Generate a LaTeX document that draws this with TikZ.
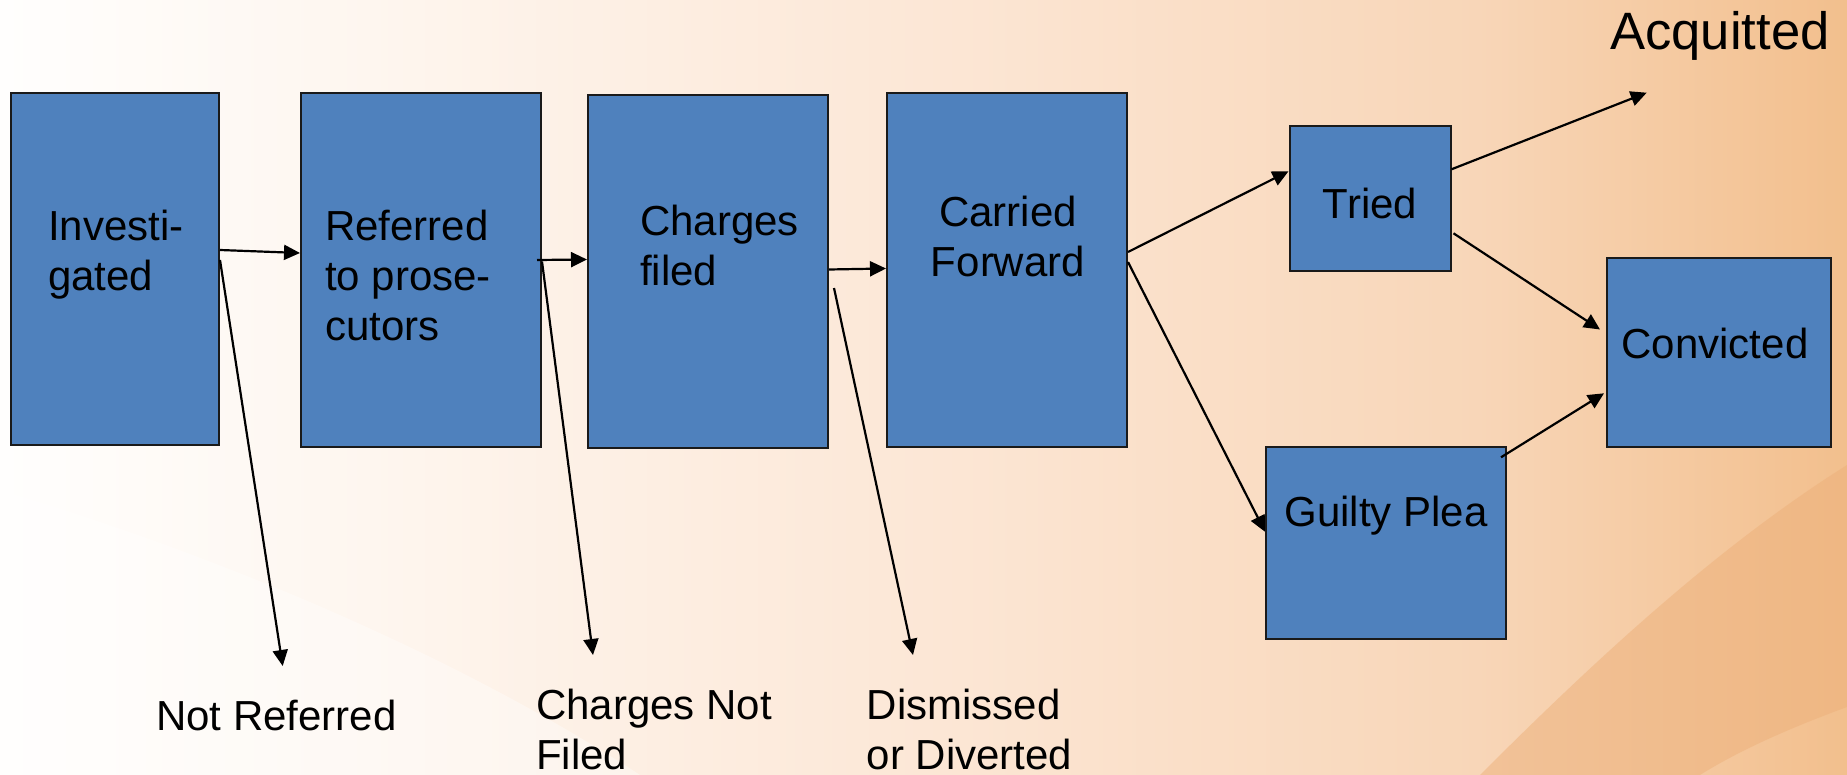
\documentclass[tikz,border=0pt]{standalone}
\usepackage{fontspec}
\setmainfont{Liberation Sans}
\usetikzlibrary{arrows.meta}

\definecolor{boxblue}{HTML}{4F81BD}
\definecolor{boxline}{HTML}{1A1A1A}
\definecolor{bgA}{HTML}{FFFEFD}
\definecolor{bgB}{HTML}{FEF6EF}
\definecolor{bgC}{HTML}{FCE7D6}
\definecolor{bgD}{HTML}{F8D6B8}
\definecolor{bgE}{HTML}{F2BF8D}
\definecolor{swoosh}{HTML}{EDB07A}

\pgfdeclarehorizontalshading{slidebg}{100bp}{color(0bp)=(bgA); color(25bp)=(bgA); color(35bp)=(bgB); color(50bp)=(bgC); color(65bp)=(bgD); color(75bp)=(bgE); color(100bp)=(bgE)}

\begin{document}
\begin{tikzpicture}[
    x=1pt,
    y=-1pt,
    stage/.style={
        draw=boxline,
        fill=boxblue,
        line width=2pt,
        inner sep=0pt
    },
    stagetext/.style={
        inner sep=0pt,
        font=\fontsize{42}{50}\selectfont
    },
    outcome/.style={
        inner sep=0pt,
        font=\fontsize{42}{50}\selectfont
    },
    flow/.style={
        draw,
        line width=2.2pt,
        -{Triangle[length=16pt,width=15pt]}
    },
    ]
    \useasboundingbox (0,0) rectangle (1847,775);
    \shade[shading=slidebg] (0,0) rectangle (1847,775);
    \fill[white, opacity=0.35] (0,490) .. controls (250,565) and (480,670) .. (640,775) -- (0,775) -- cycle;
    \fill[swoosh, opacity=0.5] (1480,775) .. controls (1600,655) and (1720,545) .. (1847,465)
        -- (1847,707) .. controls (1790,728) and (1740,750) .. (1700,775) -- cycle;

    \node[stage, minimum width=208pt, minimum height=352pt] (inv) at (115,269) {};
    \node[stage, minimum width=240pt, minimum height=354pt] (ref) at (421,270) {};
    \node[stage, minimum width=240pt, minimum height=352pt] (chg) at (708,271.5) {};
    \node[stage, minimum width=240pt, minimum height=354pt] (car) at (1007,270) {};
    \node[stage, minimum width=161pt, minimum height=145pt] (tried) at (1370,198.3) {};
    \node[stage, minimum width=224pt, minimum height=188pt] (conv) at (1719,352.5) {};
    \node[stage, minimum width=240pt, minimum height=192pt] (guilty) at (1386,542.7) {};

    \node[stagetext, anchor=north west, align=left] (invtext) at (48,205) {\strut Investi-\\gated};
    \node[stagetext, anchor=north west, align=left] (reftext) at (325,205) {\strut Referred\\to prose-\\cutors};
    \node[stagetext, anchor=north west, align=left] (chgtext) at (640,200) {\strut Charges\\filed};
    \node[stagetext, anchor=north, align=center] (cartext) at (1008,191.7) {\strut Carried\\Forward};
    \node[stagetext, anchor=base] (triedtext) at (1370,218.3) {Tried};
    \node[stagetext, anchor=base] (convtext) at (1715,359) {Convicted};
    \node[stagetext, anchor=base] (guiltytext) at (1386,526.7) {Guilty Plea};

    \node[outcome, anchor=base west, font=\fontsize{52.6}{60}\selectfont] (acq) at (1610,49.3) {Acquitted};
    \node[outcome, anchor=base west] (notref) at (156,730) {Not Referred};
    \node[outcome, anchor=north west, align=left] (notfiled) at (536,684) {\strut Charges Not\\Filed};
    \node[outcome, anchor=north west, align=left] (dismissed) at (866.7,684) {\strut Dismissed\\or Diverted};

    \coordinate (notreftip) at (282.7,666);
    \coordinate (notfiledtip) at (593,655);
    \coordinate (dismissedtip) at (913,655);
    \coordinate (acqtip) at (1646.7,92.7);

    \draw[flow] ([yshift=19pt]inv.east) -- ([yshift=17pt]ref.west);
    \draw[flow] ([yshift=9pt]inv.east) -- (notreftip);
    \draw[flow] ([xshift=-5pt,yshift=10pt]ref.east) -- ([yshift=12pt]chg.west);
    \draw[flow] ([yshift=8.5pt]ref.east) -- (notfiledtip);
    \draw[flow] ([yshift=2pt]chg.east) -- ([yshift=1.5pt]car.west);
    \draw[flow] ([xshift=5pt,yshift=-16.5pt]chg.east) -- (dismissedtip);
    \draw[flow] ([yshift=18pt]car.east) -- ([yshift=27pt]tried.west);
    \draw[flow] ([yshift=8pt]car.east) -- ([yshift=11pt]guilty.west);
    \draw[flow] ([yshift=29pt]tried.east) -- (acqtip);
    \draw[flow] ([xshift=2pt,yshift=-35pt]tried.east) -- ([xshift=-6pt,yshift=23pt]conv.west);
    \draw[flow] ([xshift=-6pt,yshift=-11.6pt]guilty.north east) -- ([xshift=-2pt,yshift=-40.8pt]conv.west);
\end{tikzpicture}
\end{document}
